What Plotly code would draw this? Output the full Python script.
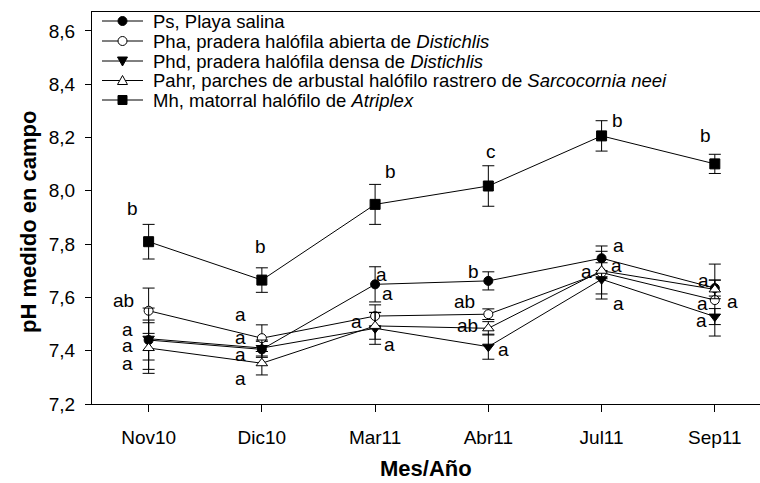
import plotly.graph_objects as go

# ---------------- data ----------------
months = ["Nov10", "Dic10", "Mar11", "Abr11", "Jul11", "Sep11"]

ps = [7.44, 7.405, 7.649, 7.662, 7.747, 7.635]
ps_err = [0.075, 0.03, 0.066, 0.034, 0.046, 0.03]

pha = [7.55, 7.447, 7.53, 7.537, 7.693, 7.59]
pha_err = [0.085, 0.05, 0.042, 0.02, 0.08, 0.135]

phd = [7.445, 7.41, 7.484, 7.415, 7.668, 7.528]
phd_err = [0.115, 0.03, 0.06, 0.047, 0.074, 0.03]

pahr = [7.41, 7.353, 7.493, 7.484, 7.70, 7.63]
pahr_err = [0.095, 0.044, 0.05, 0.025, 0.03, 0.035]

mh = [7.809, 7.665, 7.949, 8.018, 8.206, 8.101]
mh_err = [0.065, 0.046, 0.075, 0.076, 0.057, 0.036]

series_names = [
    "Ps, Playa salina",
    "Pha, pradera halófila abierta de <i>Distichlis</i>",
    "Phd, pradera halófila densa de <i>Distichlis</i>",
    "Pahr, parches de arbustal halófilo rastrero de <i>Sarcocornia neei</i>",
    "Mh, matorral halófilo de <i>Atriplex</i>",
]

y_ticks = [7.2, 7.4, 7.6, 7.8, 8.0, 8.2, 8.4, 8.6]

# significance letters (text), with their placement (category position, pH)
letter_text = ["b", "ab", "a", "a", "a",
               "b", "a", "a", "a", "a",
               "b", "a", "a", "a", "a",
               "c", "b", "ab", "ab", "a",
               "b", "a", "a", "a", "a",
               "b", "a", "a", "a", "a"]
letter_x = [-0.141, -0.223, -0.185, -0.185, -0.185,
            0.992, 0.809, 0.809, 0.809, 0.809,
            2.133, 2.054, 2.107, 1.839, 2.124,
            3.025, 2.868, 2.789, 2.816, 3.131,
            4.139, 4.148, 4.134, 3.869, 4.148,
            4.914, 4.899, 5.158, 4.893, 4.884]
letter_y = [7.934, 7.590, 7.480, 7.418, 7.353,
            7.790, 7.534, 7.450, 7.384, 7.296,
            8.074, 7.687, 7.615, 7.511, 7.425,
            8.146, 7.699, 7.584, 7.493, 7.403,
            8.262, 7.793, 7.719, 7.696, 7.578,
            8.206, 7.665, 7.586, 7.578, 7.515]

# ---------------- layout geometry (px) ----------------
W, H = 760, 483
L, R, T, B = 92, 760, 12, 404
FONT = "Liberation Sans, Arial, sans-serif"


def px(x):
    return (x - L) / (R - L)


def py(y):
    return (B - y) / (B - T)


styles = [
    dict(symbol="circle", size=9, color="black"),
    dict(symbol="circle", size=9, color="white"),
    dict(symbol="triangle-down", size=10, color="black"),
    dict(symbol="triangle-up", size=10, color="white"),
    dict(symbol="square", size=10, color="black"),
]

values = [ps, pha, phd, pahr, mh]
errors = [ps_err, pha_err, phd_err, pahr_err, mh_err]

fig = go.Figure()
for name, vals, errs, st in zip(series_names, values, errors, styles):
    fig.add_trace(go.Scatter(
        x=months, y=vals, name=name, mode="lines+markers",
        line=dict(color="black", width=1),
        marker=dict(symbol=st["symbol"], size=st["size"], color=st["color"],
                    line=dict(color="black", width=1)),
        error_y=dict(type="data", array=errs, visible=True, color="black",
                     thickness=1, width=6),
        showlegend=False, cliponaxis=False,
    ))

annotations = []
for t, x, y in zip(letter_text, letter_x, letter_y):
    annotations.append(dict(x=x, y=y, xref="x", yref="y", text=t, showarrow=False,
                            font=dict(family=FONT, size=19, color="black"),
                            xanchor="center", yanchor="middle"))

# axis titles
annotations.append(dict(x=px(28), y=py(222), xref="paper", yref="paper",
                        text="<b>pH medido en campo</b>", textangle=-90, showarrow=False,
                        font=dict(family=FONT, size=22, color="black"),
                        xanchor="center", yanchor="middle"))
annotations.append(dict(x=px(426), y=py(468), xref="paper", yref="paper",
                        text="<b>Mes/Año</b>", showarrow=False,
                        font=dict(family=FONT, size=22, color="black"),
                        xanchor="center", yanchor="middle"))

# custom legend (rows inside the plot frame)
shapes = []
rows = [21, 41, 61, 80.5, 100]
lx0, lx1, mx = 102, 143, 122.5
for name, st, ry in zip(series_names, styles, rows):
    shapes.append(dict(type="line", xref="paper", yref="paper",
                       x0=px(lx0), x1=px(lx1), y0=py(ry), y1=py(ry),
                       line=dict(color="black", width=1)))
    fill = st["color"]
    sym = st["symbol"]
    if sym == "circle":
        r = 4.5
        shapes.append(dict(type="circle", xref="paper", yref="paper",
                           x0=px(mx - r), x1=px(mx + r), y0=py(ry + r), y1=py(ry - r),
                           fillcolor=fill, line=dict(color="black", width=1)))
    elif sym == "square":
        r = 4.5
        shapes.append(dict(type="rect", xref="paper", yref="paper",
                           x0=px(mx - r), x1=px(mx + r), y0=py(ry + r), y1=py(ry - r),
                           fillcolor=fill, line=dict(color="black", width=1)))
    else:
        r = 5
        if sym == "triangle-up":
            pts = [(mx - r, ry + 4), (mx + r, ry + 4), (mx, ry - 5)]
        else:
            pts = [(mx - r, ry - 4), (mx + r, ry - 4), (mx, ry + 5)]
        path = "M " + " L ".join(f"{px(a):.5f},{py(b):.5f}" for a, b in pts) + " Z"
        shapes.append(dict(type="path", xref="paper", yref="paper", path=path,
                           fillcolor=fill, line=dict(color="black", width=1)))
    annotations.append(dict(x=px(151), y=py(ry), xref="paper", yref="paper",
                            text=name, showarrow=False,
                            font=dict(family=FONT, size=18.5, color="black"),
                            xanchor="left", yanchor="middle"))

y_top = 7.2 + (B - T) / 266.5

fig.update_layout(
    width=W, height=H,
    margin=dict(l=L, r=W - R, t=T, b=H - B, pad=0),
    paper_bgcolor="white", plot_bgcolor="white",
    separators=",.",
    font=dict(family=FONT, size=19, color="black"),
    xaxis=dict(type="category", range=[-0.5, (R - 148.3) / 113.3],
               showline=True, linecolor="black", linewidth=1.2, mirror=True,
               ticks="outside", ticklen=7, tickcolor="black", tickwidth=1,
               tickfont=dict(family=FONT, size=19, color="black"),
               showgrid=False, zeroline=False, ticklabelstandoff=9),
    yaxis=dict(range=[7.2, y_top], tickvals=y_ticks, tickformat=".1f",
               showline=True, linecolor="black", linewidth=1.2, mirror=False,
               ticks="outside", ticklen=6, tickcolor="black", tickwidth=1,
               tickfont=dict(family=FONT, size=19, color="black"),
               showgrid=False, zeroline=False, ticklabelstandoff=6),
    annotations=annotations,
    shapes=shapes,
    showlegend=False,
)

fig.write_html("out.html",
               config={"displayModeBar": False},
               post_script="document.body.style.margin='0px';document.body.style.overflow='hidden';")
